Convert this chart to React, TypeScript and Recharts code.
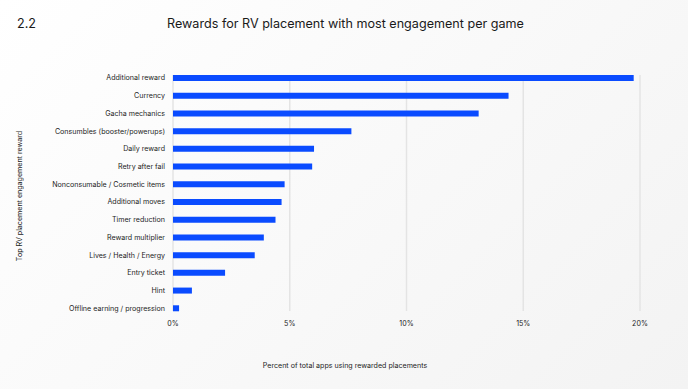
import React from 'react';
import { BarChart, Bar, XAxis, YAxis, CartesianGrid, Label } from 'recharts';

const categories = [
  'Additional reward',
  'Currency',
  'Gacha mechanics',
  'Consumbles (booster/powerups)',
  'Daily reward',
  'Retry after fail',
  'Nonconsumable / Cosmetic items',
  'Additional moves',
  'Timer reduction',
  'Reward multiplier',
  'Lives / Health / Energy',
  'Entry ticket',
  'Hint',
  'Offline earning / progression',
];

const values = [19.73, 14.37, 13.09, 7.64, 6.04, 5.96, 4.78, 4.65, 4.39, 3.89, 3.5, 2.23, 0.81, 0.26];

const xTicks = [0, 5, 10, 15, 20];

const data = categories.map((name, i) => ({ name, value: values[i] }));

const FONT = 'Inter, "Noto Sans", sans-serif';
const SMALL = 7.1;
const INK = '#1c1c1c';

const CategoryTick = (props: any) => {
  const { x, y, payload } = props;
  return (
    <text x={x} y={y} dy="0.355em" textAnchor="end" fontSize={SMALL} fill={INK} fontFamily={FONT}>
      {payload.value}
    </text>
  );
};

export default function App() {
  return (
    <div
      style={{
        position: 'absolute',
        left: 0,
        top: 0,
        width: 688,
        height: 389,
        background: 'linear-gradient(135deg, #ffffff 0%, #f9f9f9 50%, #f3f3f3 100%)',
        fontFamily: FONT,
        overflow: 'hidden',
      }}
    >
      <div style={{ position: 'absolute', left: 17, top: 15, fontSize: 12.6, lineHeight: '18px', color: '#1a1a1a' }}>2.2</div>
      <div
        style={{
          position: 'absolute',
          left: 0,
          width: 691,
          top: 15,
          textAlign: 'center',
          fontSize: 12.6,
          lineHeight: '18px',
          color: '#1a1a1a',
        }}
      >
        Rewards for RV placement with most engagement per game
      </div>
      <div style={{ position: 'absolute', left: 0, top: 0 }}>
        <BarChart
          width={688}
          height={389}
          data={data}
          layout="vertical"
          margin={{ top: 75, right: 48, bottom: 48, left: 0 }}
        >
          <CartesianGrid horizontal={false} stroke="#e4e4e4" strokeWidth={1.5} />
          <XAxis
            type="number"
            domain={[0, 20]}
            ticks={xTicks}
            tickFormatter={(v: number) => `${v}%`}
            axisLine={false}
            tickLine={false}
            tickMargin={4}
            tick={{ fontSize: SMALL, fill: INK, fontFamily: FONT }}
          >
            <Label
              content={() => (
                <text x={345} y={368} textAnchor="middle" fontSize={SMALL} fill={INK} fontFamily={FONT}>
                  Percent of total apps using rewarded placements
                </text>
              )}
            />
          </XAxis>
          <YAxis
            type="category"
            dataKey="name"
            width={173}
            axisLine={false}
            tickLine={false}
            interval={0}
            padding={{ top: -6, bottom: -6 }}
            tick={<CategoryTick />}
          >
            <Label
              content={() => (
                <text
                  x={22}
                  y={196}
                  transform="rotate(-90 22 196)"
                  textAnchor="middle"
                  fontSize={SMALL}
                  fill={INK}
                  fontFamily={FONT}
                >
                  Top RV placement engagement reward
                </text>
              )}
            />
          </YAxis>
          <Bar dataKey="value" fill="#0a4bff" barSize={6} isAnimationActive={false} />
        </BarChart>
      </div>
    </div>
  );
}
